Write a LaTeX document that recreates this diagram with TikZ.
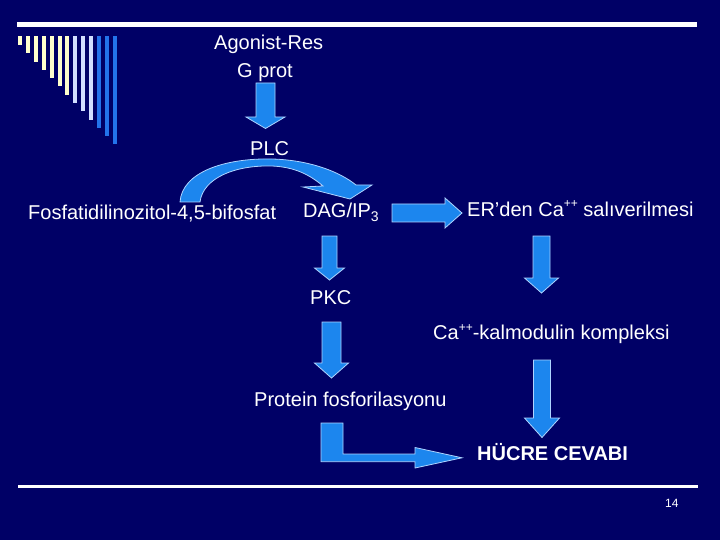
\documentclass[tikz,border=0pt]{standalone}
\usepackage{fontspec}
\setmainfont{Liberation Sans}
\definecolor{bg}{RGB}{0,0,102}
\definecolor{afill}{RGB}{28,134,238}
\definecolor{aline}{RGB}{175,212,255}
\definecolor{cream}{RGB}{255,255,204}
\definecolor{pale}{RGB}{210,222,255}
\definecolor{bluebar}{RGB}{35,115,235}
\newcommand{\downarr}[6]{%
  \draw[blockarrow] ({#1-#2},#4) -- ({#1+#2},#4) -- ({#1+#2},#5) -- ({#1+#3},#5) -- (#1,#6) -- ({#1-#3},#5) -- ({#1-#2},#5) -- cycle;}
\newcommand{\pp}{\raisebox{0.42em}{\fontsize{12}{12}\selectfont ++}}
\begin{document}
\begin{tikzpicture}[x=1pt,y=-1pt,
  lbl/.style={anchor=base west,inner sep=0pt,text=white,font=\fontsize{20}{24}\selectfont},
  blockarrow/.style={fill=afill,draw=aline,line width=0.8pt,line join=miter}]
\fill[bg] (0,0) rectangle (720,540);
\useasboundingbox (0,0) rectangle (720,540);
% top rule and bars
\fill[white] (17,22) rectangle (697,27);
\foreach \i/\c in {0/cream,1/cream,2/cream,3/cream,4/cream,5/cream,6/cream,7/pale,8/pale,9/pale,10/bluebar,11/bluebar,12/bluebar}
  \fill[\c] ({18.3+7.85*\i},36) rectangle ({22.3+7.85*\i},{45+8.28*\i});
% texts
\node[lbl] (ag) at (214,49.5) {Agonist-Res};
\node[lbl] (gp) at (237,78) {G prot};
\node[lbl] (plc) at (250,156) {PLC};
\node[lbl] (fos) at (28,219) {Fosfatidilinozitol-4,5-bifosfat};
\node[lbl] (dag) at (303,218) {DAG/IP\textsubscript{3}};
\node[lbl] (er) at (467,216) {ER’den Ca\pp\ salıverilmesi};
\node[lbl] (pkc) at (310,304) {PKC};
\node[lbl] (cak) at (433,339.5) {Ca\pp-kalmodulin kompleksi};
\node[lbl] (prot) at (254,406) {Protein fosforilasyonu};
\node[lbl,font=\fontsize{20}{24}\selectfont\bfseries] (hc) at (477,460) {HÜCRE CEVABI};
\node[anchor=base west,inner sep=0pt,text=white,font=\fontsize{12}{14}\selectfont] (pg) at (665,507) {14};
% down arrows
\downarr{265.5}{9.5}{19.5}{83}{117}{128.5}
\downarr{329.5}{7.5}{15}{236}{268}{280}
\downarr{541.5}{8.5}{17}{236}{278}{293}
\downarr{331.5}{9.5}{17}{322}{363}{378}
\downarr{542}{8.5}{17.5}{360}{418}{437.5}
% right arrow
\draw[blockarrow] (392,204) -- (445,204) -- (445,198) -- (462,213) -- (445,228) -- (445,222) -- (392,222) -- cycle;
% curved arrow
\draw[blockarrow] (180,202) .. controls (182,172) and (225,158) .. (272,159)
  .. controls (310,160) and (340,172) .. (356,185) -- (372,185) -- (350,199) -- (303,187) -- (323,186)
  .. controls (310,175) and (295,167) .. (272,166)
  .. controls (235,165) and (203,178) .. (200,202) -- cycle;
% bent arrow
\draw[blockarrow] (321,423) -- (343,423) -- (343,454) -- (415,454) -- (415,447.5) -- (462,457.8) -- (415,468) -- (415,461.7) -- (321,461.7) -- cycle;
% bottom rule
\fill[white] (18,485) rectangle (698,487.5);
\end{tikzpicture}
\end{document}
